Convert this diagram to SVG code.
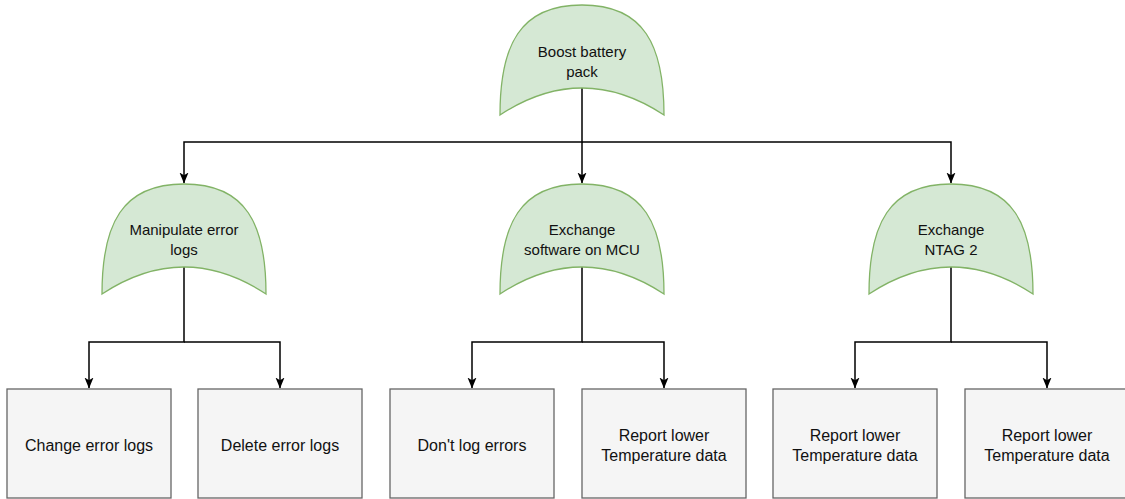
<svg xmlns="http://www.w3.org/2000/svg" width="1125" height="499" viewBox="0 0 1125 499">
  <style>
    .gate { fill: #d5e8d4; stroke: #82b366; stroke-width: 1.3; }
    .box { fill: #f5f5f5; stroke: #666666; stroke-width: 1.3; }
    .lbl { font-family: "Liberation Sans", Arial, sans-serif; fill: #111111; text-anchor: middle; }
    .g15 { font-size: 15px; }
    .b16 { font-size: 16px; }
    .wire { fill: none; stroke: #000000; stroke-width: 1.5; }
  </style>
  <defs>
    <!-- OR-gate style event shape, 164 x 110 -->
    <path id="orShape" d="M0,110 C0,40 20,0 82,0 C144,0 164,40 164,110 Q82,56 0,110 Z"/>
    <marker id="arrow" viewBox="0 0 11 10" refX="10.5" refY="5" markerWidth="11" markerHeight="10" markerUnits="userSpaceOnUse" orient="auto">
      <path d="M0,0.5 L11,5 L0,9.5 L2.8,5 Z" fill="#000000"/>
    </marker>
  </defs>

  <rect width="1125" height="499" fill="#ffffff"/>

  <!-- connectors -->
  <g id="connectors">
    <path class="wire" d="M582,88 V142 H184 V183" marker-end="url(#arrow)"/>
    <path class="wire" d="M582,142 V183" marker-end="url(#arrow)"/>
    <path class="wire" d="M582,142 H951 V183" marker-end="url(#arrow)"/>

    <path class="wire" d="M184,267 V342 H89 V388" marker-end="url(#arrow)"/>
    <path class="wire" d="M184,342 H280 V388" marker-end="url(#arrow)"/>

    <path class="wire" d="M582,267 V342 H472 V388" marker-end="url(#arrow)"/>
    <path class="wire" d="M582,342 H664 V388" marker-end="url(#arrow)"/>

    <path class="wire" d="M951,267 V342 H855 V388" marker-end="url(#arrow)"/>
    <path class="wire" d="M951,342 H1047 V388" marker-end="url(#arrow)"/>
  </g>

  <!-- top event -->
  <g id="boost">
    <use href="#orShape" class="gate" transform="translate(500,5)"/>
    <text class="lbl g15" x="582" y="57">Boost battery</text>
    <text class="lbl g15" x="582" y="77">pack</text>
  </g>

  <!-- intermediate events -->
  <g id="manipulate">
    <use href="#orShape" class="gate" transform="translate(102,184)"/>
    <text class="lbl g15" x="184" y="235">Manipulate error</text>
    <text class="lbl g15" x="184" y="255">logs</text>
  </g>
  <g id="exchangeSw">
    <use href="#orShape" class="gate" transform="translate(500,184)"/>
    <text class="lbl g15" x="582" y="235">Exchange</text>
    <text class="lbl g15" x="582" y="255">software on MCU</text>
  </g>
  <g id="exchangeNtag">
    <use href="#orShape" class="gate" transform="translate(869,184)"/>
    <text class="lbl g15" x="951" y="235">Exchange</text>
    <text class="lbl g15" x="951" y="255">NTAG 2</text>
  </g>

  <!-- basic events -->
  <g id="changeLogs">
    <rect class="box" x="7" y="389" width="164" height="109"/>
    <text class="lbl b16" x="89" y="451">Change error logs</text>
  </g>
  <g id="deleteLogs">
    <rect class="box" x="198" y="389" width="164" height="109"/>
    <text class="lbl b16" x="280" y="451">Delete error logs</text>
  </g>
  <g id="dontLog">
    <rect class="box" x="390" y="389" width="164" height="109"/>
    <text class="lbl b16" x="472" y="451">Don't log errors</text>
  </g>
  <g id="reportLowerA">
    <rect class="box" x="582" y="389" width="164" height="109"/>
    <text class="lbl b16" x="664" y="441">Report lower</text>
    <text class="lbl b16" x="664" y="461">Temperature data</text>
  </g>
  <g id="reportLowerB">
    <rect class="box" x="773" y="389" width="164" height="109"/>
    <text class="lbl b16" x="855" y="441">Report lower</text>
    <text class="lbl b16" x="855" y="461">Temperature data</text>
  </g>
  <g id="reportLowerC">
    <rect class="box" x="965" y="389" width="164" height="109"/>
    <text class="lbl b16" x="1047" y="441">Report lower</text>
    <text class="lbl b16" x="1047" y="461">Temperature data</text>
  </g>
</svg>
